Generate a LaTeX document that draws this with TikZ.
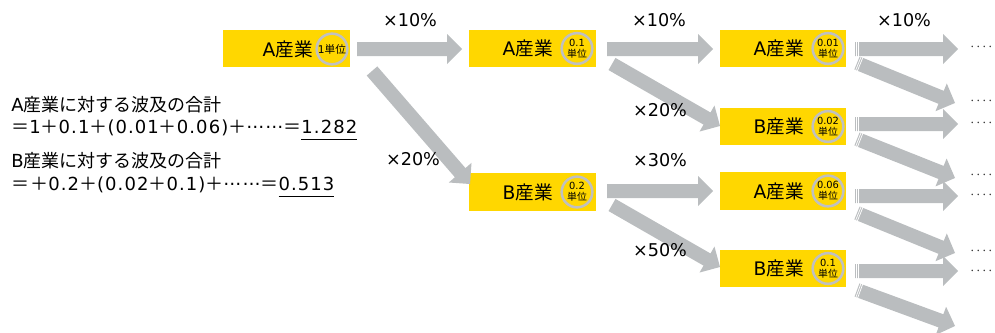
\documentclass[tikz,border=0pt]{standalone}
\usepackage{fontspec}
\setmainfont{DejaVu Sans}
\newfontfamily\jp{Noto Sans CJK JP}
\newfontfamily\latw{DejaVu Sans}[LetterSpace=6]
\newfontfamily\jpw{Noto Sans CJK JP}[LetterSpace=6]
\usetikzlibrary{calc}
\definecolor{ylw}{RGB}{255,215,0}
\definecolor{agray}{RGB}{186,189,191}
\definecolor{cgray}{RGB}{192,192,192}
\newcommand\blkarrow[2]{%
  \coordinate (bb) at ($(#2)!11.25pt!(#1)$);
  \fill[agray] ($(#1)!5.25pt!90:(#2)$) -- ($(bb)!5.25pt!90:(#2)$) -- ($(bb)!11.25pt!90:(#2)$)
    -- (#2) -- ($(bb)!11.25pt!-90:(#2)$) -- ($(bb)!5.25pt!-90:(#2)$) -- ($(#1)!5.25pt!-90:(#2)$) -- cycle;}
\newcommand\stripetail[2]{%
  \coordinate (s1) at ($(#1)!1.1pt!(#2)$);
  \coordinate (s2) at ($(#1)!2.5pt!(#2)$);
  \draw[white,line width=0.55pt] ($(s1)!6pt!90:(#2)$) -- ($(s1)!6pt!-90:(#2)$);
  \draw[white,line width=0.55pt] ($(s2)!6pt!90:(#2)$) -- ($(s2)!6pt!-90:(#2)$);}
\newcommand\ul[1]{\underline{#1\vphantom{y}}}
\newcommand\jpel{\raisebox{0.3em}{……}}
\tikzset{
  box/.style={fill=ylw, minimum width=95pt, minimum height=28pt, inner sep=0pt},
  ring/.style={circle, draw=cgray, line width=1.9pt, fill=ylw, minimum size=23pt, inner sep=0pt,
    font=\fontsize{7.4}{7.9}\selectfont, align=center},
  btxt/.style={anchor=east, inner sep=0pt, font=\fontsize{14}{16}\selectfont},
  lbl/.style={inner sep=0pt, font=\fontsize{13.2}{16}\selectfont},
  ltxt/.style={anchor=west, inner sep=0pt, font=\fontsize{13.5}{16}\selectfont},
  dts/.style={inner sep=0pt, font=\fontsize{9}{12}\selectfont, text=black!80},
}
\begin{document}
\begin{tikzpicture}[x=0.75pt,y=-0.75pt]
\useasboundingbox (0,0) rectangle (995,332);
% boxes
\node[box] (A1) at (286.5,48.5) {};
\node[box] (A2) at (532.5,48.5) {};
\node[box] (B2) at (532.5,192) {};
\node[box] (A3) at (783,48.5) {};
\node[box] (B3) at (783,126.5) {};
\node[box] (A4) at (783,191) {};
\node[box] (B4) at (783,268.5) {};
% rings
\node[ring, font=\fontsize{8}{8}\selectfont] (cA1) at (332,49) {1{\jp 単位}};
\node[ring] (cA2) at (577,48.5) {0.1\\{\jp 単位}};
\node[ring] (cB2) at (577,192) {0.2\\{\jp 単位}};
\node[ring] (cA3) at (828,48.5) {0.01\\{\jp 単位}};
\node[ring] (cB3) at (828,126.5) {0.02\\{\jp 単位}};
\node[ring] (cA4) at (828,191) {0.06\\{\jp 単位}};
\node[ring] (cB4) at (828,268.5) {0.1\\{\jp 単位}};
% box texts
\node[btxt] (tA1) at (313,49) {A{\jp 産業}};
\node[btxt] (tA2) at (553,48.5) {A{\jp 産業}};
\node[btxt] (tB2) at (553,192) {B{\jp 産業}};
\node[btxt] (tA3) at (804,48.5) {A{\jp 産業}};
\node[btxt] (tB3) at (804,126.5) {B{\jp 産業}};
\node[btxt] (tA4) at (804,191) {A{\jp 産業}};
\node[btxt] (tB4) at (804,268.5) {B{\jp 産業}};
% arrow end points
\coordinate (a1t) at (357,49);  \coordinate (a1h) at (462,49);
\coordinate (d1t) at (372,71);  \coordinate (d1h) at (470,184);
\coordinate (a2t) at (607,49);  \coordinate (a2h) at (713,49);
\coordinate (d2t) at (612,64);  \coordinate (d2h) at (720,126);
\coordinate (b2t) at (607,191); \coordinate (b2h) at (713,191);
\coordinate (e2t) at (612,205); \coordinate (e2h) at (720,267);
\coordinate (a3t) at (855,49);  \coordinate (a3h) at (958,49);
\coordinate (d3t) at (857,63);  \coordinate (d3h) at (955,103);
\coordinate (b3t) at (855,124); \coordinate (b3h) at (958,124);
\coordinate (e3t) at (857,139); \coordinate (e3h) at (955,178);
\coordinate (a4t) at (855,196); \coordinate (a4h) at (958,196);
\coordinate (d4t) at (857,213); \coordinate (d4h) at (955,253);
\coordinate (b4t) at (855,271); \coordinate (b4h) at (958,271);
\coordinate (e4t) at (857,290); \coordinate (e4h) at (955,326);
\blkarrow{a1t}{a1h}
\blkarrow{d1t}{d1h}
\blkarrow{a2t}{a2h}
\blkarrow{d2t}{d2h}
\blkarrow{b2t}{b2h}
\blkarrow{e2t}{e2h}
\foreach \p in {a3,d3,b3,e3,a4,d4,b4,e4}{\blkarrow{\p t}{\p h}\stripetail{\p t}{\p h}}
% labels
\node[lbl] (l1) at (410,20) {×10\%};
\node[lbl] (l2) at (413,159) {×20\%};
\node[lbl] (l3) at (659,20) {×10\%};
\node[lbl] (l4) at (660,110) {×20\%};
\node[lbl] (l5) at (660,160) {×30\%};
\node[lbl] (l6) at (660,250) {×50\%};
\node[lbl] (l7) at (904,20) {×10\%};
% dots
\foreach \y [count=\i] in {49,103,125,177,197,253,273}{\node[dts,anchor=west] (dot\i) at (969,\y) {{\jp ‥‥}};}
% left text
\node[ltxt] (s1) at (11,105) {A{\jp 産業に対する波及の合計}};
\node[ltxt] (s2) at (11,130) {\latw{\jpw ＝}1{\jpw ＋}0.1{\jpw ＋}(0.01{\jpw ＋}0.06){\jpw ＋}\jpel{\jpw ＝}\ul{1.282}};
\node[ltxt] (s3) at (11,161) {B{\jp 産業に対する波及の合計}};
\node[ltxt] (s4) at (11,187) {\latw{\jpw ＝＋}0.2{\jpw ＋}(0.02{\jpw ＋}0.1){\jpw ＋}\jpel{\jpw ＝}\ul{0.513}};
\end{tikzpicture}
\end{document}
